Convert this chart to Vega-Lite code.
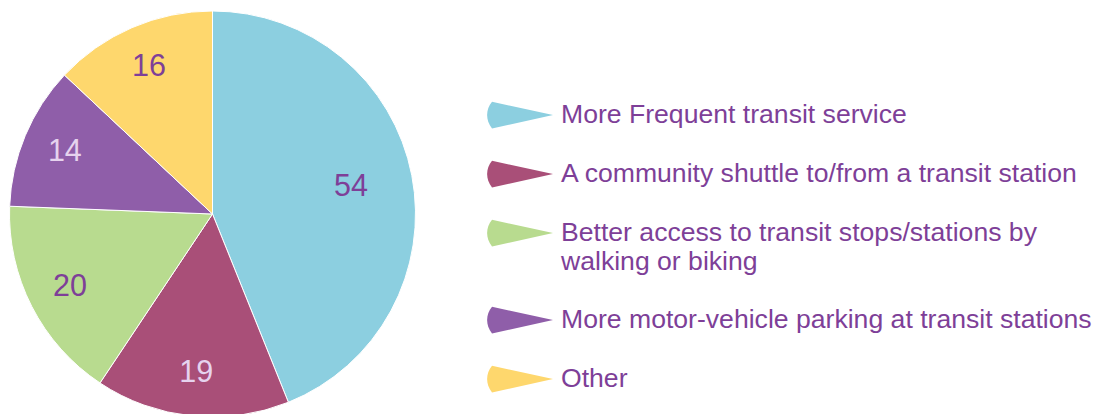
{
  "$schema": "https://vega.github.io/schema/vega-lite/v6.json",
  "width": 425,
  "height": 414,
  "autosize": "none",
  "padding": {"left": 0, "top": 7, "right": 674, "bottom": 0},
  "background": "white",
  "view": {"stroke": null},
  "data": {
    "values": [
      {"rank": 1, "category": "More Frequent transit service", "value": 54},
      {"rank": 2, "category": "A community shuttle to/from a transit station", "value": 19},
      {"rank": 3, "category": "Better access to transit stops/stations by walking or biking", "value": 20},
      {"rank": 4, "category": "More motor-vehicle parking at transit stations", "value": 14},
      {"rank": 5, "category": "Other", "value": 16}
    ]
  },
  "encoding": {
    "theta": {"field": "value", "type": "quantitative", "stack": true},
    "order": {"field": "rank", "type": "quantitative", "sort": "ascending"},
    "color": {
      "field": "category",
      "type": "nominal",
      "sort": ["More Frequent transit service", "A community shuttle to/from a transit station", "Better access to transit stops/stations by walking or biking", "More motor-vehicle parking at transit stations", "Other"],
      "scale": {
        "domain": ["More Frequent transit service", "A community shuttle to/from a transit station", "Better access to transit stops/stations by walking or biking", "More motor-vehicle parking at transit stations", "Other"],
        "range": ["#8ccfe0", "#a94f78", "#b8db8f", "#8f5ea9", "#fed76d"]
      },
      "legend": {
        "title": null,
        "orient": "none",
        "legendX": 486,
        "legendY": 74.6,
        "padding": 0,
        "symbolType": "M1,0L-0.82,-0.4A0.62,0.62,0,0,0,-0.82,0.4Z",
        "symbolSize": 4489,
        "symbolStrokeWidth": 0,
        "symbolOpacity": 1,
        "labelFont": "Liberation Sans",
        "labelFontSize": 26.6,
        "labelColor": "#7e3f98",
        "labelOffset": 8,
        "labelLimit": 0,
        "rowPadding": 11,
        "labelExpr": "datum.label === 'Better access to transit stops/stations by walking or biking' ? ['Better access to transit stops/stations by', 'walking or biking'] : datum.label"
      }
    }
  },
  "layer": [
    {"mark": {"type": "arc", "outerRadius": 203, "stroke": "white", "strokeWidth": 1}},
    {
      "mark": {"type": "text", "font": "Liberation Sans", "fontSize": 30.5, "radius": {"expr": "datum.value > 50 ? 141 : 160"}},
      "encoding": {
        "text": {"field": "value", "type": "quantitative"},
        "fill": {"condition": {"test": "datum.value == 19 || datum.value == 14", "value": "#e6d3ee"}, "value": "#7e3f98"}
      }
    }
  ]
}
